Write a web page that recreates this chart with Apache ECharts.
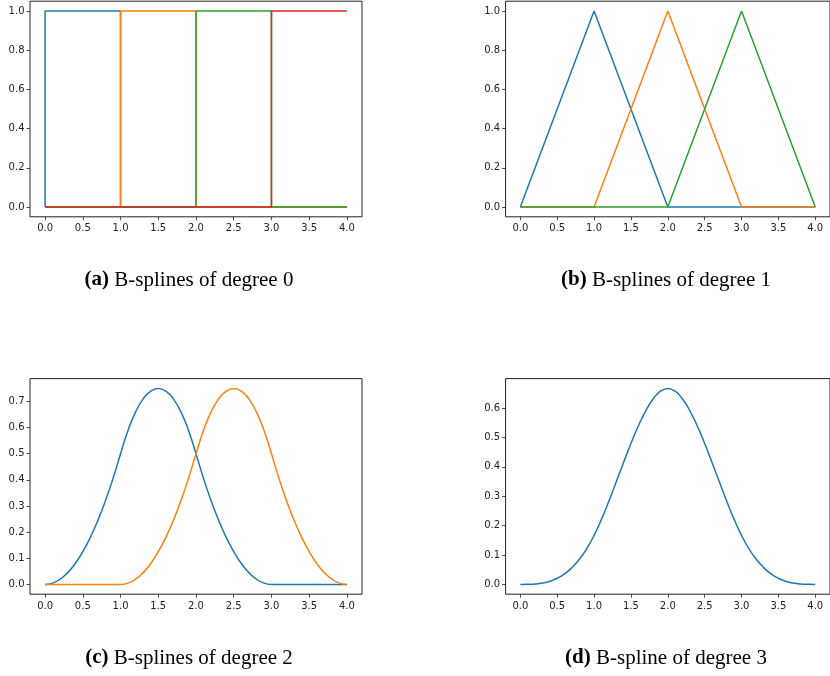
<!DOCTYPE html>
<html>
<head>
<meta charset="utf-8">
<script src="https://cdn.jsdelivr.net/npm/echarts@6/dist/echarts.min.js"></script>
<style>
  html, body { margin: 0; padding: 0; background: #fff; }
  #chart { width: 830px; height: 676px; }
</style>
</head>
<body>
<div id="chart"></div>
<script>
// sample positions for the smooth curves (c) and (d)
var xs = [0, 0.1, 0.2, 0.3, 0.4, 0.5, 0.6, 0.7, 0.8, 0.9,
          1.0, 1.1, 1.2, 1.3, 1.4, 1.5, 1.6, 1.7, 1.8, 1.9,
          2.0, 2.1, 2.2, 2.3, 2.4, 2.5, 2.6, 2.7, 2.8, 2.9,
          3.0, 3.1, 3.2, 3.3, 3.4, 3.5, 3.6, 3.7, 3.8, 3.9, 4.0];

// (a) degree 0, [x, y] corners of each step
var deg0Blue   = [[0, 0], [0, 1], [1, 1], [1, 0], [4, 0]];
var deg0Orange = [[0, 0], [1, 0], [1, 1], [2, 1], [2, 0], [4, 0]];
var deg0Green  = [[0, 0], [2, 0], [2, 1], [3, 1], [3, 0], [4, 0]];
var deg0Red    = [[0, 0], [3, 0], [3, 1], [4, 1]];

// (b) degree 1, hat functions
var deg1Blue   = [[0, 0], [1, 1], [2, 0], [4, 0]];
var deg1Orange = [[0, 0], [1, 0], [2, 1], [3, 0], [4, 0]];
var deg1Green  = [[0, 0], [2, 0], [3, 1], [4, 0]];

// (c) degree 2, values at xs
var deg2Blue = [0, 0.005, 0.02, 0.045, 0.08, 0.125, 0.18, 0.245, 0.32, 0.405,
                0.5, 0.59, 0.66, 0.71, 0.74, 0.75, 0.74, 0.71, 0.66, 0.59,
                0.5, 0.405, 0.32, 0.245, 0.18, 0.125, 0.08, 0.045, 0.02, 0.005,
                0, 0, 0, 0, 0, 0, 0, 0, 0, 0, 0];
var deg2Orange = [0, 0, 0, 0, 0, 0, 0, 0, 0, 0,
                  0, 0.005, 0.02, 0.045, 0.08, 0.125, 0.18, 0.245, 0.32, 0.405,
                  0.5, 0.59, 0.66, 0.71, 0.74, 0.75, 0.74, 0.71, 0.66, 0.59,
                  0.5, 0.405, 0.32, 0.245, 0.18, 0.125, 0.08, 0.045, 0.02, 0.005, 0];

// (d) degree 3, values at xs
var deg3Blue = [0, 0.0002, 0.0013, 0.0045, 0.0107, 0.0208, 0.036, 0.0572, 0.0853, 0.1215,
                0.1667, 0.2212, 0.2827, 0.3482, 0.4147, 0.4792, 0.5387, 0.5902, 0.6307, 0.6572,
                0.6667, 0.6572, 0.6307, 0.5902, 0.5387, 0.4792, 0.4147, 0.3482, 0.2827, 0.2212,
                0.1667, 0.1215, 0.0853, 0.0572, 0.036, 0.0208, 0.0107, 0.0045, 0.0013, 0.0002, 0];

// tick values
var xTicks  = [0, 0.5, 1.0, 1.5, 2.0, 2.5, 3.0, 3.5, 4.0];
var yTicks1 = [0, 0.2, 0.4, 0.6, 0.8, 1.0];
var yTicks2 = [0, 0.1, 0.2, 0.3, 0.4, 0.5, 0.6, 0.7];
var yTicks3 = [0, 0.1, 0.2, 0.3, 0.4, 0.5, 0.6];

var captions = [
    ['(a)', 'B-splines of degree 0'],
    ['(b)', 'B-splines of degree 1'],
    ['(c)', 'B-splines of degree 2'],
    ['(d)', 'B-spline of degree 3']
];

var C_BLUE = '#1f77b4', C_ORANGE = '#ff7f0e', C_GREEN = '#2ca02c', C_RED = '#d62728';
var INK = '#222';

function pairs(vals) {
    return xs.map(function (x, i) { return [x, vals[i]]; });
}

var grids = [
    { left: 30, top: 1.2, width: 332, height: 215.6 },
    { left: 505.6, top: 1.2, width: 332, height: 215.6 },
    { left: 30, top: 378.6, width: 332, height: 215.6 },
    { left: 505.6, top: 378.6, width: 332, height: 215.6 }
].map(function (g) {
    g.show = true;
    g.borderColor = '#222';
    g.borderWidth = 1;
    g.containLabel = false;
    return g;
});

function tickFmt(v) { return (+v).toFixed(1); }

function makeAxis(idx, min, max, ticks, margin) {
    return {
        type: 'value',
        gridIndex: idx,
        min: min,
        max: max,
        axisLine: { show: false, onZero: false },
        splitLine: { show: false },
        axisTick: {
            show: true,
            customValues: ticks,
            length: 3.5,
            lineStyle: { color: INK, width: 0.8 }
        },
        axisLabel: {
            customValues: ticks,
            formatter: tickFmt,
            fontFamily: 'DejaVu Sans',
            fontSize: 10,
            color: INK,
            margin: margin
        }
    };
}

var yRanges = [
    [-0.05, 1.05, yTicks1],
    [-0.05, 1.05, yTicks1],
    [-0.0375, 0.7875, yTicks2],
    [-0.0333, 0.7, yTicks3]
];

var xAxes = [0, 1, 2, 3].map(function (i) { return makeAxis(i, -0.2, 4.2, xTicks, 7); });
var yAxes = yRanges.map(function (r, i) { return makeAxis(i, r[0], r[1], r[2], 5.5); });

function line(idx, data, color, smooth) {
    return {
        type: 'line',
        xAxisIndex: idx,
        yAxisIndex: idx,
        data: data,
        symbol: 'none',
        smooth: smooth ? 0.5 : false,
        lineStyle: { color: color, width: 1.5 },
        itemStyle: { color: color },
        animation: false
    };
}

var series = [
    line(0, deg0Blue, C_BLUE),
    line(0, deg0Orange, C_ORANGE),
    line(0, deg0Green, C_GREEN),
    line(0, deg0Red, C_RED),
    line(1, deg1Blue, C_BLUE),
    line(1, deg1Orange, C_ORANGE),
    line(1, deg1Green, C_GREEN),
    line(2, pairs(deg2Blue), C_BLUE, true),
    line(2, pairs(deg2Orange), C_ORANGE, true),
    line(3, pairs(deg3Blue), C_BLUE, true)
];

var capPos = [[189, 280], [666, 280], [189, 658], [666, 658]];
var graphics = captions.map(function (c, i) {
    return {
        type: 'text',
        x: capPos[i][0],
        y: capPos[i][1],
        style: {
            text: '{b|' + c[0] + '} ' + c[1],
            fontFamily: 'Liberation Serif',
            fontSize: 21,
            fill: '#000',
            align: 'center',
            verticalAlign: 'middle',
            rich: {
                b: { fontFamily: 'Liberation Serif', fontSize: 21, fontWeight: 'bold', fill: '#000' }
            }
        }
    };
});

var chart = echarts.init(document.getElementById('chart'));
chart.setOption({
    animation: false,
    backgroundColor: '#fff',
    grid: grids,
    xAxis: xAxes,
    yAxis: yAxes,
    series: series,
    graphic: graphics
});
</script>
</body>
</html>
